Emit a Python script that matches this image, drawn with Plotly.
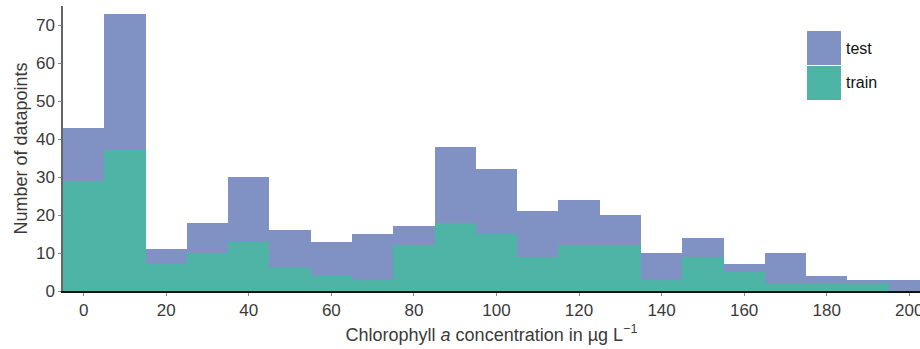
import plotly.graph_objects as go

bin_centers = [0, 10, 20, 30, 40, 50, 60, 70, 80, 90, 100, 110, 120, 130, 140, 150, 160, 170, 180, 190, 200]
total_counts = [43, 73, 11, 18, 30, 16, 13, 15, 17, 38, 32, 21, 24, 20, 10, 14, 7, 10, 4, 3, 3]
train_counts = [29, 37, 7, 10, 13, 6, 4, 3, 12, 18, 15, 9, 12, 12, 3, 9, 5, 2, 2, 2, 0]
test_counts = [t - r for t, r in zip(total_counts, train_counts)]

series_names = ["test", "train"]
series_colors = {"test": "#7f92c3", "train": "#4db4a6"}

fig = go.Figure()
fig.add_trace(go.Bar(x=bin_centers, y=train_counts, name="train", width=10,
                     marker=dict(color=series_colors["train"], line=dict(width=0)),
                     showlegend=False))
fig.add_trace(go.Bar(x=bin_centers, y=test_counts, name="test", width=10,
                     marker=dict(color=series_colors["test"], line=dict(width=0)),
                     showlegend=False))

# manual legend with large swatches
legend_top = 31
sw = 34
for i, name in enumerate(series_names):
    y0 = legend_top + i * (sw + 1)
    fig.add_shape(type="rect", xref="paper", yref="paper",
                  x0=(807 - 63) / 857, x1=(841 - 63) / 857,
                  y0=1 - (y0 + sw - 6) / 285, y1=1 - (y0 - 6) / 285,
                  fillcolor=series_colors[name], line=dict(width=0))
    fig.add_annotation(xref="paper", yref="paper", x=(844 - 63) / 857,
                       y=1 - (y0 + sw / 2 - 6) / 285, text=name, showarrow=False,
                       xanchor="left", yanchor="middle",
                       font=dict(size=16, color="#111111"))

fig.update_layout(
    width=920, height=349,
    margin=dict(l=63, r=0, t=6, b=58, autoexpand=False),
    barmode="stack", bargap=0,
    plot_bgcolor="white", paper_bgcolor="white",
    font=dict(family="Liberation Sans, Arial, sans-serif", size=17, color="#3a3a3a"),
)
fig.update_xaxes(
    range=[-5, 202.6], tickmode="array", tickvals=[0, 20, 40, 60, 80, 100, 120, 140, 160, 180, 200],
    ticklabeloverflow="allow", automargin=False,
    showgrid=False, zeroline=False, showline=True, linecolor="#111111", linewidth=1.5,
    ticks="outside", ticklen=3, tickcolor="#888888",
    title=dict(text="Chlorophyll <i>a</i> concentration in µg L<sup>−1</sup>", font=dict(size=18), standoff=9),
)
fig.update_yaxes(
    range=[0, 75], tickmode="array", tickvals=[0, 10, 20, 30, 40, 50, 60, 70],
    automargin=False,
    showgrid=False, zeroline=False, showline=True, linecolor="#666666", linewidth=1.5,
    ticks="outside", ticklen=3, tickcolor="#888888",
    title=dict(text="Number of datapoints", font=dict(size=18), standoff=4),
)

fig.write_html("out.html")
